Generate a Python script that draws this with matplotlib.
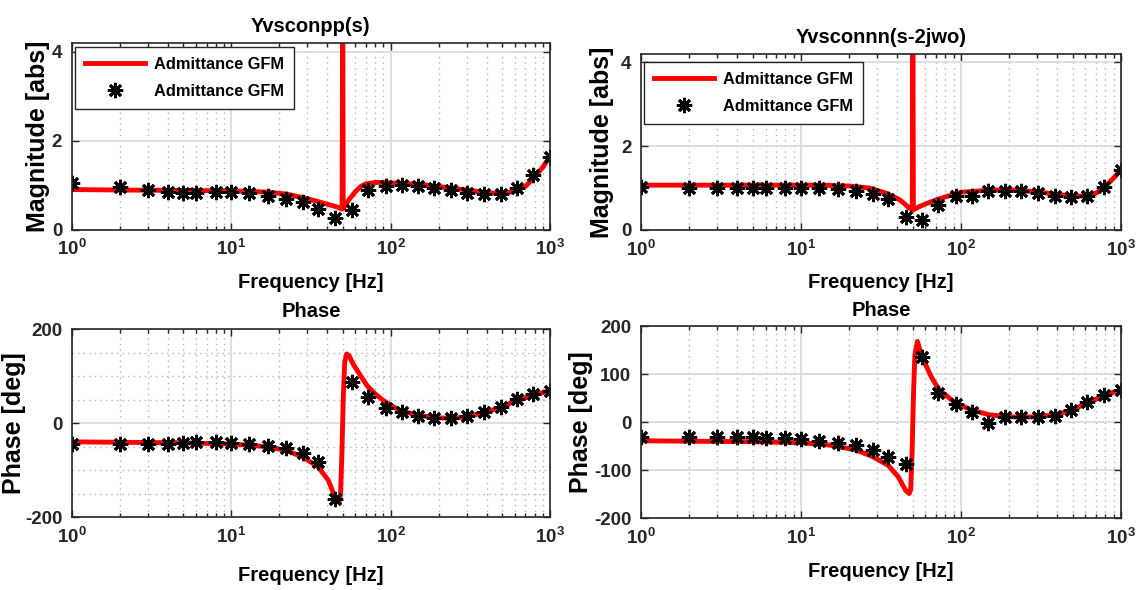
import matplotlib
matplotlib.use('Agg')
import matplotlib.pyplot as plt
from matplotlib.ticker import LogLocator, MultipleLocator, NullFormatter
import numpy as np

# Fonte parecida com a do MATLAB (Arial, negrito)
plt.rcParams['font.family'] = ['Liberation Sans', 'DejaVu Sans']
plt.rcParams['font.weight'] = 'bold'
plt.rcParams['axes.labelweight'] = 'bold'
plt.rcParams['axes.titleweight'] = 'bold'
plt.rcParams['axes.unicode_minus'] = False
plt.rcParams['mathtext.fontset'] = 'custom'
plt.rcParams['mathtext.rm'] = 'Liberation Sans:bold'
plt.rcParams['mathtext.default'] = 'rm'

# Pontos medidos (asteriscos)
freq_pts = [1, 2, 3, 4, 5, 6, 8, 10, 13, 17, 22, 28, 35, 45, 57, 72, 93,
            117, 148, 188, 238, 303, 385, 490, 617, 786, 1000]
mag_pp_pts = [1.04, 0.95, 0.88, 0.84, 0.82, 0.82, 0.84, 0.84, 0.82, 0.76, 0.69, 0.61, 0.47, 0.25,
              0.43, 0.88, 0.99, 1.01, 0.98, 0.94, 0.89, 0.83, 0.80, 0.81, 0.94, 1.22, 1.64]
mag_nn_pts = [1.03, 1.01, 1.01, 1.01, 1.01, 1.01, 1.01, 1.01, 1.00, 0.98, 0.94, 0.87, 0.73, 0.30,
              0.24, 0.60, 0.80, 0.82, 0.94, 0.94, 0.93, 0.89, 0.82, 0.78, 0.80, 1.03, 1.43]
ph_pp_pts = [-44, -45, -45, -44, -42, -41, -41, -42, -45, -48, -53, -63, -83, -162,
             88, 56, 32, 23, 16, 11, 11, 16, 23, 35, 52, 61, 69]
ph_nn_pts = [-31, -31, -31, -32, -32, -33, -34, -36, -39, -43, -48, -58, -72, -88,
             136, 60, 38, 20, -3, 11, 10, 10, 13, 26, 42, 56, 67]

# Curvas do modelo (linha vermelha)
freq_mag_pp = [1, 2, 5, 10, 13, 17, 22, 28, 35, 40, 45, 48, 49.6, 50, 50.4, 52, 55, 60, 65, 70,
               80, 90, 100, 150, 200, 300, 400, 500, 600, 700, 800, 900, 1000]
mag_pp_line = [0.90, 0.89, 0.88, 0.87, 0.86, 0.84, 0.80, 0.72, 0.63, 0.57, 0.52, 0.48, 0.46, 6.0,
               0.48, 0.55, 0.68, 0.85, 0.97, 1.03, 1.06, 1.06, 1.05, 1.02, 0.97, 0.89, 0.83,
               0.81, 0.86, 0.97, 1.18, 1.40, 1.65]

freq_mag_nn = [1, 2, 5, 10, 13, 20, 27, 34, 41.5, 46.7, 49.6, 50, 50.4, 55, 60, 70, 80, 100,
               150, 200, 300, 400, 500, 600, 700, 800, 900, 1000]
mag_nn_line = [1.07, 1.07, 1.07, 1.07, 1.07, 1.05, 1.00, 0.88, 0.72, 0.55, 0.48, 6.0, 0.48,
               0.56, 0.62, 0.72, 0.79, 0.90, 0.95, 0.96, 0.91, 0.85, 0.81, 0.81, 0.88, 1.05,
               1.24, 1.45]

freq_ph_pp = [1, 2, 5, 10, 13, 17, 22, 28, 35, 40.5, 44.7, 46, 47.5, 48.5, 49.5, 50.5, 51.5,
              53, 55, 58, 65, 71, 80, 90, 100, 114, 150, 200, 250, 300, 400, 500, 600, 800, 1000]
ph_pp_line = [-40, -41, -42, -45, -47, -51, -58, -72, -93, -121, -157, -164, -168, -150, -60,
              60, 130, 147, 143, 126, 100, 80, 62, 48, 38, 27, 16, 11, 10, 14, 23, 35, 46, 60, 69]

freq_ph_nn = [1, 2, 5, 10, 15, 22, 28, 35, 40.5, 45, 47.5, 48.5, 49.5, 50.5, 51.5, 53.4, 57,
              65, 73, 93, 117, 150, 200, 240, 300, 400, 490, 617, 786, 1000]
ph_nn_line = [-39, -40, -41, -43, -48, -58, -72, -90, -114, -142, -149, -140, -60, 60, 140,
              168, 136, 95, 67, 39, 25, 15, 11, 10, 11, 16, 25, 39, 56, 67]

escuro = '#262626'


def estilo(ax, ylim, yticks, yminor=None):
    # eixo log, grades estilo MATLAB
    ax.set_xscale('log')
    ax.set_xlim(1, 1000)
    ax.set_ylim(*ylim)
    ax.set_yticks(yticks)
    ax.xaxis.set_major_locator(LogLocator(base=10, numticks=10))
    ax.xaxis.set_minor_locator(LogLocator(base=10, subs=np.arange(2, 10), numticks=10))
    ax.xaxis.set_minor_formatter(NullFormatter())
    ax.grid(True, which='major', color='#dcdcdc', lw=1.3, ls='-')
    ax.grid(True, which='minor', axis='x', color='#b5b5b5', lw=1.0, ls=(0, (1, 3)))
    if yminor:
        ax.yaxis.set_minor_locator(MultipleLocator(yminor))
        ax.grid(True, which='minor', axis='y', color='#b5b5b5', lw=1.0, ls=(0, (1, 3)))
    ax.tick_params(which='both', direction='in', top=True, right=True, width=1,
                   color=escuro, labelcolor=escuro, labelsize=13.5, pad=7)
    ax.tick_params(which='major', length=5)
    ax.tick_params(which='minor', length=3)
    ax.tick_params(axis='y', which='minor', length=0)
    for s in ax.spines.values():
        s.set_color(escuro)
        s.set_linewidth(1.2)
    ax.set_axisbelow(True)


def legenda(ax, y0):
    ax.legend(loc='upper left', bbox_to_anchor=(0.006, y0), borderaxespad=0,
              handlelength=3.7, handletextpad=0.55, labelspacing=0.75, borderpad=0.6,
              fancybox=False, framealpha=1, edgecolor=escuro,
              prop={'weight': 'bold', 'size': 11.8})


fig = plt.figure(figsize=(11.42, 5.9), dpi=100)

ax1 = fig.add_axes([0.063, 0.611, 0.4186, 0.316])
ax2 = fig.add_axes([0.5613, 0.6102, 0.4203, 0.2983])
ax3 = fig.add_axes([0.063, 0.1237, 0.4186, 0.3186])
ax4 = fig.add_axes([0.5613, 0.122, 0.4203, 0.3254])

marc = dict(ls='none', marker=(8, 2, 0), ms=11, mew=2.0, color='black')
linha = dict(color='red', lw=3.5)

# Magnitude pp
ax1.plot(freq_mag_pp, mag_pp_line, label='Admittance GFM', **linha)
ax1.plot(freq_pts, mag_pp_pts, label='Admittance GFM', **marc)
estilo(ax1, (0, 4.2), [0, 2, 4])
ax1.set_title('Yvsconpp(s)', fontsize=14.5, pad=8)
ax1.set_ylabel('Magnitude [abs]', fontsize=18)
ax1.set_xlabel('Frequency [Hz]', fontsize=14.5)
ax1.yaxis.set_label_coords(-0.046, 0.5)
ax1.xaxis.set_label_coords(0.5, -0.235)
legenda(ax1, 0.98)

# Magnitude nn
ax2.plot(freq_mag_nn, mag_nn_line, label='Admittance GFM', **linha)
ax2.plot(freq_pts, mag_nn_pts, label='Admittance GFM', **marc)
estilo(ax2, (0, 4.2), [0, 2, 4])
ax2.set_title('Yvsconnn(s-2jwo)', fontsize=14.5, pad=8)
ax2.set_ylabel('Magnitude [abs]', fontsize=18)
ax2.set_xlabel('Frequency [Hz]', fontsize=14.5)
ax2.yaxis.set_label_coords(-0.056, 0.5)
ax2.xaxis.set_label_coords(0.5, -0.245)
legenda(ax2, 0.955)

# Fase pp
ax3.plot(freq_ph_pp, ph_pp_line, **linha)
ax3.plot(freq_pts, ph_pp_pts, **marc)
estilo(ax3, (-200, 200), [-200, 0, 200], yminor=50)
ax3.set_title('Phase', fontsize=14.5, pad=9)
ax3.set_ylabel('Phase [deg]', fontsize=18)
ax3.set_xlabel('Frequency [Hz]', fontsize=14.5)
ax3.yaxis.set_label_coords(-0.096, 0.5)
ax3.xaxis.set_label_coords(0.5, -0.26)

# Fase nn
ax4.plot(freq_ph_nn, ph_nn_line, **linha)
ax4.plot(freq_pts, ph_nn_pts, **marc)
estilo(ax4, (-200, 200), [-200, -100, 0, 100, 200])
ax4.set_title('Phase', fontsize=14.5, pad=7)
ax4.set_ylabel('Phase [deg]', fontsize=18)
ax4.set_xlabel('Frequency [Hz]', fontsize=14.5)
ax4.yaxis.set_label_coords(-0.1, 0.5)
ax4.xaxis.set_label_coords(0.5, -0.228)

fig.savefig('out.png', dpi=100)
